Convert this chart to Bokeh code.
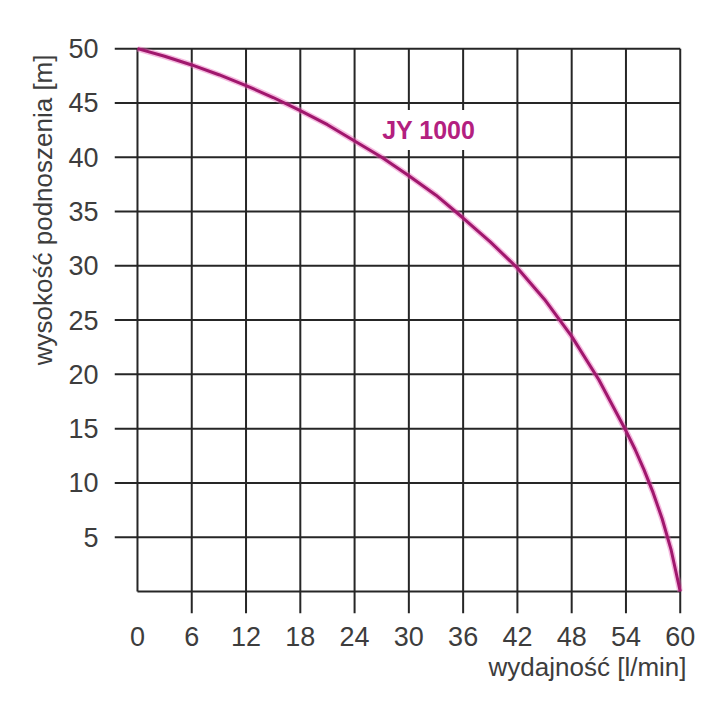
from bokeh.plotting import figure
from bokeh.models import FixedTicker, Label, ColumnDataSource, Title
from bokeh.embed import file_html
from bokeh.resources import INLINE

# ---- data ----
flow = [0, 3, 6, 9, 12, 15, 18, 21, 24, 27, 30, 33, 36, 39, 42, 45, 48, 51, 54, 55, 56, 57, 58, 59, 60]
head = [50, 49.3, 48.5, 47.6, 46.6, 45.5, 44.3, 43.0, 41.5, 40.0, 38.3, 36.5, 34.4, 32.2, 29.8, 26.9,
        23.5, 19.5, 14.8, 13.1, 11.2, 9.1, 6.7, 3.8, 0]
x_ticks = [0, 6, 12, 18, 24, 30, 36, 42, 48, 54, 60]
y_ticks = [0, 5, 10, 15, 20, 25, 30, 35, 40, 45, 50]
series_name = "JY 1000"
x_title = "wydajność [l/min]"
y_title = "wysokość podnoszenia [m]"

FONT = "Liberation Sans"
TXT = "#3d3d3d"
GRID = "#262626"

x_lo, x_hi = -2.54, 60.25
y_lo, y_hi = -2.03, 50.2

p = figure(width=720, height=720, x_range=(x_lo, x_hi), y_range=(y_lo, y_hi),
           output_backend="svg", toolbar_location=None,
           min_border_left=114, min_border_right=38, min_border_top=46, min_border_bottom=107)
p.outline_line_color = None
p.xgrid.visible = False
p.ygrid.visible = False
p.background_fill_color = "white"
p.border_fill_color = "white"

# grid lines (vertical extend below the x=0 baseline except at 0; horizontal extend left except at 0)
vx0, vy0, vx1, vy1 = [], [], [], []
for xv in x_ticks:
    vx0.append(xv); vx1.append(xv)
    vy0.append(0 if xv == x_ticks[0] else y_lo); vy1.append(y_ticks[-1])
hx0, hy0, hx1, hy1 = [], [], [], []
for yv in y_ticks:
    hy0.append(yv); hy1.append(yv)
    hx0.append(0 if yv == y_ticks[0] else x_lo); hx1.append(x_ticks[-1])
p.segment(x0=vx0 + hx0, y0=vy0 + hy0, x1=vx1 + hx1, y1=vy1 + hy1,
          line_color=GRID, line_width=2)

# curve with glow
src = ColumnDataSource(dict(x=flow, y=head))
p.line("x", "y", source=src, line_color="#e866b8", line_width=6, line_alpha=0.45, line_join="round")
p.line("x", "y", source=src, line_color="#a0176d", line_width=3, line_join="round")

# axes
xa = p.xaxis[0]
xa.ticker = FixedTicker(ticks=x_ticks)
ya = p.yaxis[0]
ya.ticker = FixedTicker(ticks=y_ticks[1:])
for ax in (xa, ya):
    ax.axis_line_color = None
    ax.major_tick_line_color = None
    ax.minor_tick_line_color = None
    ax.major_tick_out = 0
    ax.major_tick_in = 0
    ax.major_label_text_font = FONT
    ax.major_label_text_font_size = "27px"
    ax.major_label_text_color = TXT
xa.major_label_standoff = 13
ya.major_label_standoff = 16

p.add_layout(Title(text=y_title, align="right", text_font=FONT, text_font_size="26px",
                   text_font_style="normal", text_color=TXT, standoff=15, offset=8), "left")
p.add_layout(Title(text=x_title, align="right", text_font=FONT, text_font_size="26px",
                   text_font_style="normal", text_color=TXT, standoff=2, offset=-4), "below")

p.add_layout(Label(x=32.2, y=42.5, text=series_name, text_align="center", text_baseline="middle",
                   text_font=FONT, text_font_size="25px", text_font_style="bold",
                   text_color="#b3207f", background_fill_color="white", padding=6))

open("out.html", "w").write(file_html(p, INLINE))
